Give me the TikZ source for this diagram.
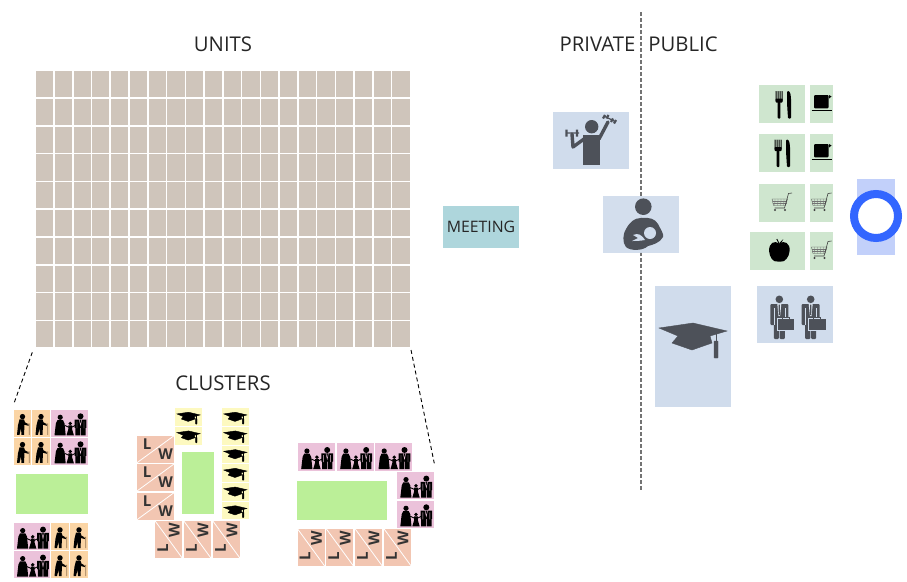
\documentclass[tikz,border=0pt]{standalone}
\usepackage{fontspec}
\setmainfont{Open Sans}
\definecolor{gridc}{HTML}{CFC5BB}
\definecolor{blueT}{HTML}{D0DCEC}
\definecolor{greenT}{HTML}{CFE6CF}
\definecolor{orangeT}{HTML}{FBD5A5}
\definecolor{pinkT}{HTML}{EBC2DA}
\definecolor{yellowT}{HTML}{FDF9C0}
\definecolor{lwT}{HTML}{F2C6B2}
\definecolor{limeT}{HTML}{BBEF98}
\definecolor{iconG}{HTML}{4D5159}
\definecolor{meetT}{HTML}{AED6DC}
\definecolor{ringB}{HTML}{3366FF}
\definecolor{ringBg}{HTML}{C2D0FA}
\definecolor{txt}{HTML}{262626}
\tikzset{
  x=1pt,y=-1pt,
  heading/.style={font=\fontsize{20.3}{24}\selectfont,text=txt,inner sep=0pt},
  lwletter/.style={font=\bfseries\fontsize{15}{18}\selectfont,text=black!80,inner sep=0pt},
  guide/.style={black,line width=.9pt,dash pattern=on 4pt off 3pt},
  elder/.pic={
    \fill[black] (0,-6.7) circle (2.7);
    \fill[black] (-3,-4)--(1.5,-4)--(2.5,-1)--(6,1)--(6,2.5)--(2,1.5)--(1.5,11.5)--(-1,11.5)--(-1.5,5)--(-3,11.5)--(-5.5,11.5)--(-4.5,2)--cycle;
    \draw[black!45!orangeT!80!brown,line width=.8pt] (5,1)--(6.8,.6)--(6.8,11.5);
  },
  family/.pic={
    \fill[black] (-9.3,-6) circle (2.6) (.7,.2) circle (1.9) (11,-7) circle (3);
    \fill[black] (-12,-3.3)--(-6.6,-3.3)--(-5,0)--(-3.8,12)--(-15,12)--(-13.6,0)--cycle;
    \fill[black] (-1.2,2)--(2.6,2)--(2.6,6)--(4.4,12)--(-3,12)--(-1.2,6)--cycle;
    \draw[black,line width=.9pt] (-5,2)--(-.5,4) (2,4)--(6,2);
    \fill[black] (5.2,-3.7) rectangle (16.8,4.5) (5.8,4) rectangle (10.6,12) (11.4,4) rectangle (16.2,12);
    \draw[pinkT,line width=.45pt] (7.5,-2)--(7.5,5) (14.5,-2)--(14.5,5) (9.8,-3.7)--(11,2)--(12.2,-3.7);
  },
  capicon/.pic={
    \fill[pic actions] (-34,-7)--(0,-12)--(34,-4)--(17,1)--(19,8)--(-1,15)--(-21,8)--(-15,1)--cycle;
    \draw[pic actions,line width=.5pt] (23,-4)--(23,8);
    \fill[pic actions,rounded corners=.5pt] (21,6) rectangle (25,23);
  },
  fork/.pic={
    \fill[black,rounded corners=.4pt] (-6,-13) rectangle (-4.9,-3) (-4,-13) rectangle (-2.9,-3) (-2,-13) rectangle (-.9,-3) (0,-13) rectangle (1.1,-3);
    \fill[black,rounded corners=.8pt] (-6,-5.5) rectangle (1.1,-1.5);
    \fill[black,rounded corners=.8pt] (-3.8,-3) rectangle (-1.1,14.5);
    \fill[black,rounded corners=1pt] (5.5,-13)..controls (8.8,-13) and (9.6,-9) .. (9.6,-1)--(9.6,14.5)--(6.5,14.5)--(5.5,-1)--cycle;
  },
  cupicon/.pic={
    \fill[black,rounded corners=1pt] (-7.5,-9) rectangle (7,4.3);
    \fill[black] (7.5,-9)--(10,-7.5)--(7.5,-5.5)--cycle;
    \draw[black,line width=1pt] (-10,6.7)--(10,6.7);
  },
  cart/.pic={
    \draw[black!70,line width=.35pt,fill=greenT] (-10,-4)--(5.5,-4)--(3.5,2.5)--(-8.5,2.5)--cycle;
    \foreach \u in {-7,-4,-1,2} \draw[black!55,line width=.3pt] (\u,-4)--(\u-.3,2.5);
    \foreach \v in {-2,0} \draw[black!55,line width=.3pt] (-9.5,\v)--(4.8,\v);
    \draw[black!75,line width=.6pt] (10,-10)--(6.5,-9.5)--(2.5,5)--(-7.5,5);
    \fill[black!75] (-7,7) circle (1.1) (3,7) circle (1.1);
  },
  apple/.pic={
    \fill[black] (0,-7.5)..controls (5,-11) and (11,-8) .. (10.3,0)..controls (10,6) and (5,11.5) .. (2,10.5)..controls (.8,10) and (-.8,10) .. (-2,10.5)..controls (-6,11.5) and (-10,6) .. (-10.2,0)..controls (-10.5,-8) and (-5,-11) .. (0,-7.5)--cycle;
    \draw[black,line width=.9pt] (0,-7)--(-2.5,-12);
    \fill[black] (0,-8)--(4,-12)--(2,-8)--cycle;
  },
  biz/.pic={
    \fill[iconG] (0,-14.7) circle (3.8);
    \fill[iconG,rounded corners=1pt] (-9,-10) rectangle (9,11);
    \fill[iconG,rounded corners=1pt] (-5.5,8) rectangle (-.4,25) (.4,8) rectangle (5.5,25);
    \fill[blueT!70!white] (-2,-10)--(2,-10)--(.8,2)--(-.8,2)--cycle;
    \fill[iconG] (-.7,-9.5)--(.7,-9.5)--(.5,1)--(-.5,1)--cycle;
    \draw[blueT,line width=.4pt] (-5.5,-6)--(-5.5,11) (5.5,-6)--(5.5,3);
    \draw[blueT,line width=.5pt,fill=iconG] (-2,4.5) rectangle (15.4,16);
    \draw[iconG,line width=.8pt] (3,4.5)--(3,3)--(10,3)--(10,4.5);
  },
  lwtile/.pic={
    \fill[lwT] (-18.5,-13.5) rectangle (18.5,13.5);
    \draw[white,line width=.8pt] (-18.5,13.5)--(18.5,-13.5);
    \node[lwletter] (l) at (-8.5,-5) {L};
    \node[lwletter] (w) at (10.2,5) {W};
  },
  lwrot/.pic={
    \fill[lwT] (-13.5,-18.5) rectangle (13.5,18.5);
    \draw[white,line width=.8pt] (-13.5,-18.5)--(13.5,18.5);
    \node[lwletter,rotate=90] (l) at (-6,8.6) {L};
    \node[lwletter,rotate=90] (w) at (5.4,-9.5) {W};
  },
}
\begin{document}
\begin{tikzpicture}
\useasboundingbox (0,0) rectangle (907,581);
% dividing line
\coordinate (divtop) at (641,12);
\coordinate (divbot) at (641,490);
\draw[black!55,line width=1.5pt,dash pattern=on 3.5pt off 2.5pt] (divtop)--(divbot);
% grid of units
\foreach \c in {0,...,19}\foreach \r in {0,...,9}
  \fill[gridc] ({36+\c*18.76},{71+\r*27.8}) rectangle ++(17.2,26.2);
% headings
\node[heading] (units) at (223,44) {UNITS};
\node[heading] (clusters) at (223,383) {CLUSTERS};
\node[heading] (private) at (597.5,44) {PRIVATE};
\node[heading] (public) at (683,44) {PUBLIC};
% guides
\coordinate (gla) at (32.3,352.3); \coordinate (glb) at (14,403.3);
\coordinate (gra) at (411,350); \coordinate (grb) at (434.3,463.3);
\draw[guide] (gla)--(glb);
\draw[guide] (gra)--(grb);
% cluster 1
\foreach \y in {410,438}{
  \fill[orangeT] (14,\y) rectangle ++(17,26.7);
  \fill[orangeT] (32.3,\y) rectangle ++(17.7,26.7);
  \fill[pinkT] (51,\y) rectangle ++(37,26.7);
  \pic at (22.5,\y+13.3) {elder};
  \pic at (41,\y+13.3) {elder};
  \pic at (69.5,\y+13.3) {family};
}
\fill[limeT] (15.7,474.3) rectangle (88,513.7);
\foreach \y in {523.3,551.3}{
  \fill[pinkT] (14,\y) rectangle ++(36,26.7);
  \fill[orangeT] (51.3,\y) rectangle ++(17.7,26.7);
  \fill[orangeT] (70.3,\y) rectangle ++(17.7,26.7);
  \pic at (32,\y+13.3) {family};
  \pic at (60,\y+13.3) {elder};
  \pic at (79,\y+13.3) {elder};
}
% cluster 2
\foreach \y in {408.3,427}{
  \fill[yellowT] (175.3,\y) rectangle ++(26.4,17.5);
  \pic[fill=black,draw=black,scale=.34] at (188.5,\y+8) {capicon};
}
\foreach \i in {0,...,5}{
  \fill[yellowT] (222,408.3+\i*18.7) rectangle ++(26.7,17.5);
  \pic[fill=black,draw=black,scale=.34] at (235.3,408.3+\i*18.7+8) {capicon};
}
\foreach \y [count=\n] in {449.2,477.5,506.2}
  \pic (cb\n) at (155.5,\y) {lwtile};
\foreach \x [count=\n] in {168.8,197.5,226.5}
  \pic (cc\n) at (\x,539.7) {lwrot};
\fill[limeT] (182.3,452) rectangle (213.7,513.7);
% cluster 3
\foreach \x in {297.7,336.7,375}{
  \fill[pinkT] (\x,443.3) rectangle ++(37,27.4);
  \pic at (\x+18.5,457) {family};
}
\foreach \y in {472,500.7}{
  \fill[pinkT] (397,\y) rectangle ++(36.7,27.3);
  \pic at (415.3,\y+13.6) {family};
}
\fill[limeT] (296.7,481) rectangle (387,520);
\foreach \x [count=\n] in {311,339.8,368.6,397.5}
  \pic (cd\n) at (\x,547.3) {lwrot};
% meeting
\node[fill=meetT,minimum width=76pt,minimum height=42pt,inner sep=0pt,text=txt,font=\fontsize{15.8}{18}\selectfont] (meeting) at (481,227) {MEETING};
% dumbbell box
\fill[blueT] (553,112) rectangle (629,169);
\fill[iconG] (591.7,126.7) circle (6.7);
\fill[iconG] (583.3,135)--(600,135)--(600,165)--(583.3,165)--cycle;
\draw[iconG,line width=3.4pt,line join=round,line cap=round] (584,139)--(573,147)--(572,134);
\draw[iconG,line width=3.4pt,line join=round,line cap=round] (599,139)--(608,122);
\draw[iconG,line width=1.2pt] (566,133)--(579,133) (605,116.5)--(616,122);
\draw[iconG,line width=2.2pt] (566.5,129.5)--(566.5,136.5) (577,129.5)--(577,136.5) (605,115)--(603,118.5) (616,120)--(614,123.5) (608.5,115)--(606.5,118.5) (613,118.5)--(611,122);
% nursing box
\fill[blueT,fill opacity=.93] (603,196) rectangle (679,253);
\fill[iconG] (643.3,206.7) circle (8.3);
\fill[iconG] (641,218)..controls (650,217) and (655,219) .. (658,224)..controls (661,230) and (664,234) .. (663,237)..controls (660,243) and (652,245) .. (648,246)..controls (643,251) and (630,251) .. (626,247)..controls (622,243) and (623,233) .. (626,229)..controls (630,222) and (634,218) .. (641,218)--cycle;
\fill[blueT] (650,233) circle (6);
\fill[blueT] (633,235)..controls (638,233) and (641,234) .. (645,240)..controls (640,241) and (635,241) .. (632,241)--(638,238)--cycle;
% large cap
\fill[blueT] (655,286) rectangle (731,407);
\pic[fill=iconG,draw=iconG] at (693,335) {capicon};
% food tiles
\foreach \y in {85,134,184}\fill[greenT] (759,\y) rectangle ++(46,38);
\fill[greenT] (750,232) rectangle ++(55,38);
\foreach \y in {85,134,184,232}\fill[greenT] (810,\y) rectangle ++(23,38);
\pic at (781.5,104) {fork};
\pic at (780.5,152.5) {fork};
\pic at (821.5,104) {cupicon};
\pic at (821.5,153) {cupicon};
\pic at (782,203) {cart};
\pic at (821.5,203) {cart};
\pic at (779.3,251) {apple};
\pic at (821.5,251) {cart};
% businessmen
\fill[blueT] (757,286) rectangle (833,343);
\pic at (779.3,314) {biz};
\pic at (810.7,314) {biz};
% ring
\fill[ringBg] (857,179) rectangle (895,255);
\draw[ringB,line width=8pt,fill=white] (876,216) circle (22);
\end{tikzpicture}
\end{document}
